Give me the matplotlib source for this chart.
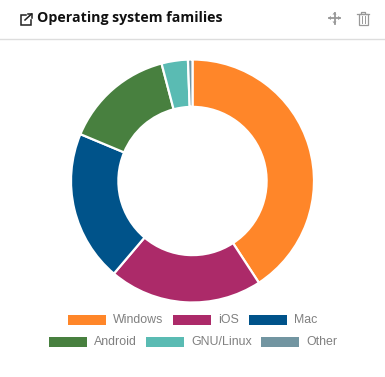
import matplotlib
matplotlib.use("Agg")
import matplotlib.pyplot as plt
from matplotlib.patches import Rectangle

title = "Operating system families"
categories = ["Windows", "iOS", "Mac", "Android", "GNU/Linux", "Other"]
values = [40.8, 20.4, 20.1, 14.6, 3.5, 0.6]
colors = ["#FF8629", "#AC2A69", "#00538A", "#48803F", "#5ABBB3", "#7295A1"]

W, H = 385, 377
fig = plt.figure(figsize=(W / 100, H / 100), dpi=100, facecolor="white")

bg = fig.add_axes([0, 0, 1, 1])
bg.set_xlim(0, W)
bg.set_ylim(H, 0)
bg.axis("off")

# header
bg.plot([0, W], [38.5, 38.5], color="#DDDDDD", lw=1)
bg.text(37, 18.3, title, fontsize=10.15, fontweight="bold", family="Open Sans",
        color="#111111", va="center", ha="left")

# external-link icon
ik = "#222222"
bg.plot([25.5, 20.5, 20.5, 31, 31], [14.5, 14.5, 24.5, 24.5, 19.5],
        color=ik, lw=1.1, solid_joinstyle="miter")
bg.plot([25, 31.5], [20, 14], color=ik, lw=1.1)
bg.plot([27.5, 31.5, 31.5], [14, 14, 18], color=ik, lw=1.1, solid_joinstyle="miter")

# move icon
grey = "#999999"
bg.plot([329, 340], [18, 18], color=grey, lw=1.3)
bg.plot([334.5, 334.5], [12.5, 23.5], color=grey, lw=1.3)
for xs, ys in [([332.5, 334.5, 336.5], [14.5, 12, 14.5]), ([332.5, 334.5, 336.5], [21.5, 24, 21.5]),
               ([331, 328, 331], [16, 18, 20]), ([338, 341, 338], [16, 18, 20])]:
    bg.fill(xs, ys, color=grey, lw=0)

# trash icon
bg.add_patch(Rectangle((358.5, 14), 9, 10.5, fill=False, ec=grey, lw=0.9))
bg.plot([357, 369], [13.5, 13.5], color=grey, lw=0.9)
bg.plot([361, 361, 365, 365], [13, 11.5, 11.5, 13], color=grey, lw=0.9)
bg.plot([361.5, 361.5], [16, 23], color=grey, lw=0.7)
bg.plot([364.5, 364.5], [16, 23], color=grey, lw=0.7)

# legend
patch_x = [68, 173, 249, 49, 146, 261]
patch_y = [315, 315, 315, 337, 337, 337]
for name, c, x, y in zip(categories, colors, patch_x, patch_y):
    bg.add_patch(Rectangle((x, y), 38, 10, fc=c, ec="none"))
    bg.text(x + 45, y + 5, name, fontsize=8.9, family="Liberation Sans",
            color="#808080", va="center", ha="left")

# donut
cx, cy, r = 192.5, 181, 121.5
ax = fig.add_axes([(cx - r) / W, 1 - (cy + r) / H, 2 * r / W, 2 * r / H])
ax.pie(values, colors=colors, startangle=90, counterclock=False, radius=1,
       wedgeprops=dict(width=0.39, edgecolor="white", linewidth=1.6))
ax.set_xlim(-1, 1)
ax.set_ylim(-1, 1)
ax.set_aspect("equal")

fig.savefig("out.png", dpi=100, facecolor="white")
